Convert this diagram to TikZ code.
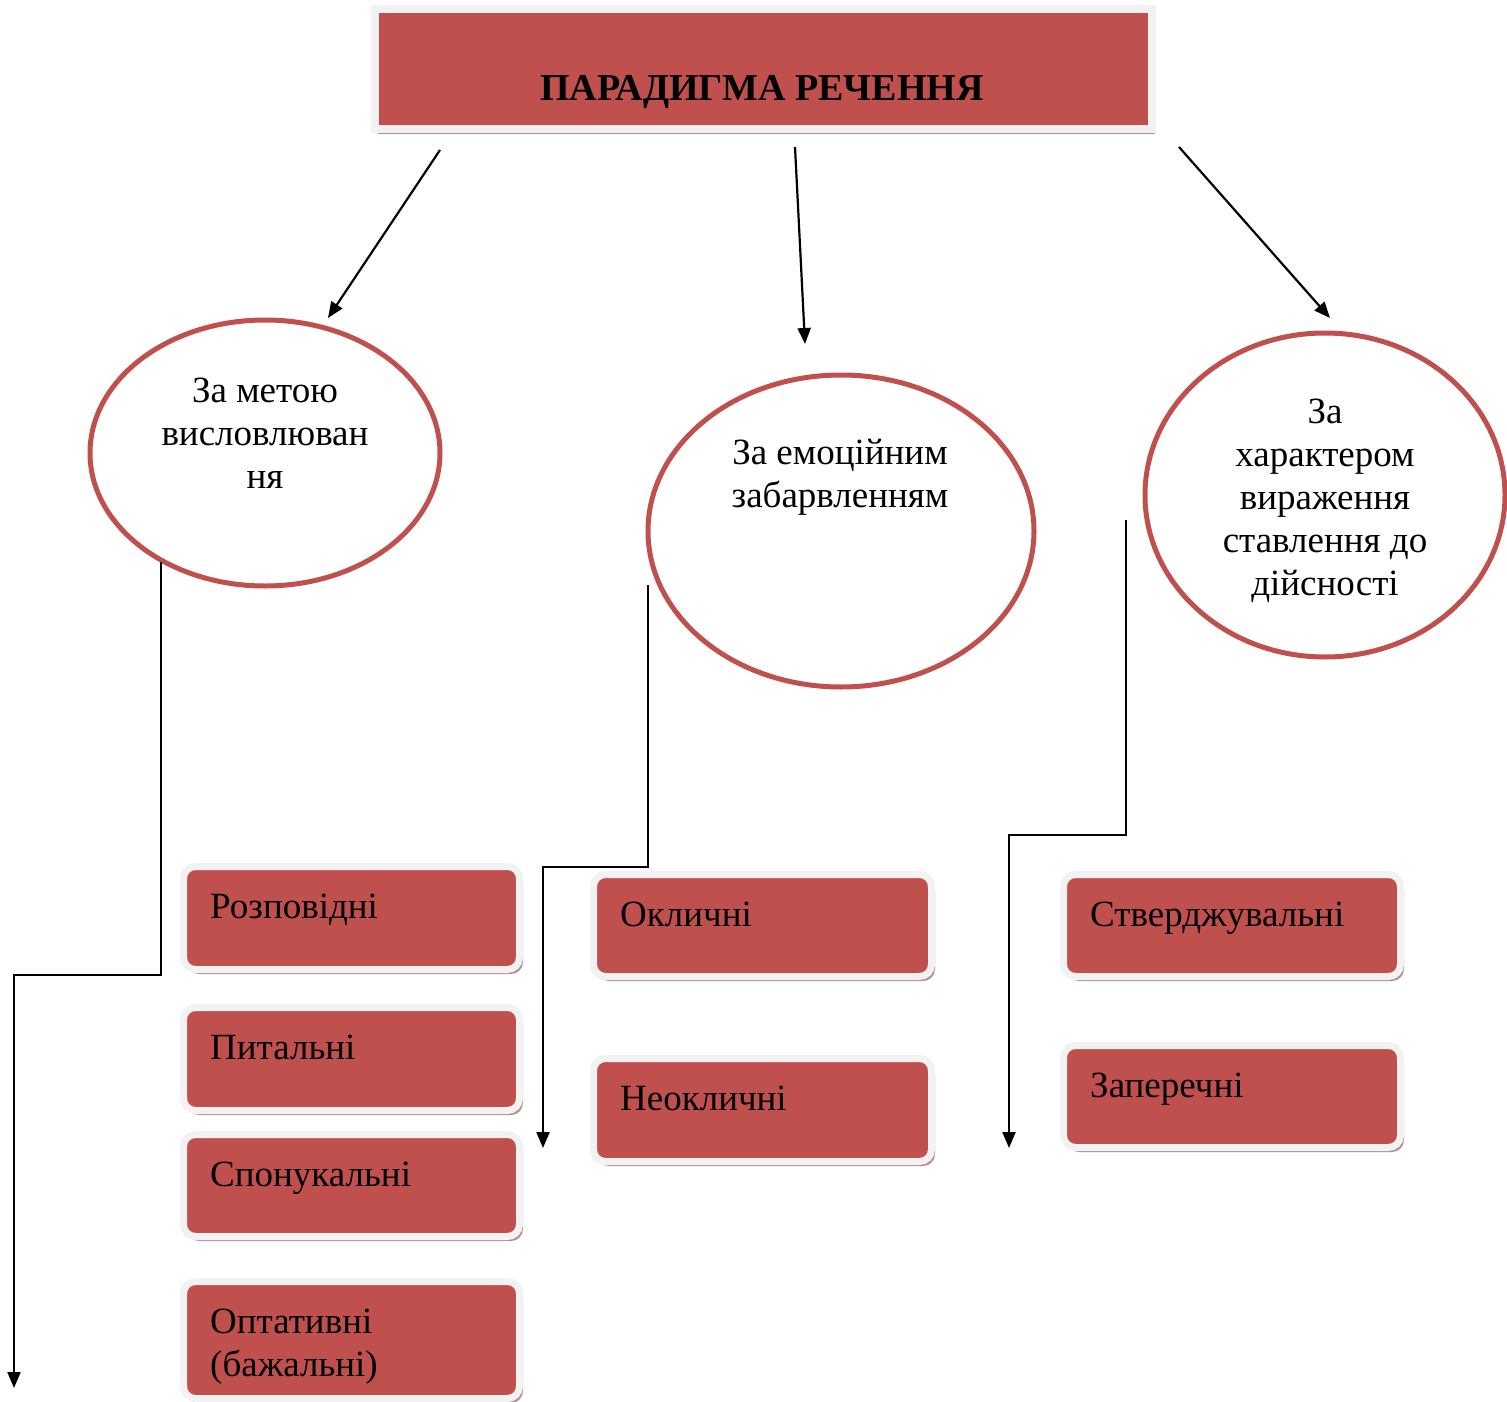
\documentclass[tikz,border=0pt]{standalone}
\usepackage{fontspec}
\setmainfont{Liberation Serif}
\usetikzlibrary{shadows,arrows.meta,shapes.geometric}
\definecolor{accred}{HTML}{C0504D}
\definecolor{framegray}{HTML}{F2F2F2}
\definecolor{shadowred}{HTML}{B48E8E}
\tikzset{
  redbox/.style={fill=accred, draw=framegray, line width=7pt, rounded corners=12pt,
    drop shadow={shadow xshift=3.5pt, shadow yshift=-4.5pt, fill=shadowred, opacity=1},
    inner sep=0pt},
  titlebox/.style={fill=accred, draw=framegray, line width=8pt,
    drop shadow={shadow xshift=3pt, shadow yshift=-5pt, fill=shadowred, opacity=1},
    inner sep=0pt},
  oval/.style={draw=accred, line width=5pt, fill=white, inner sep=0pt},
  boxtext/.style={anchor=base west, font=\fontsize{37}{43}\selectfont, align=left, inner sep=0pt},
  ovaltext/.style={font=\fontsize{37}{43}\selectfont, align=center, inner sep=0pt, anchor=base},
  conn/.style={line width=2.2pt, -{Triangle[length=16pt,width=13pt]}},
}
% #7 = baseline of the last text line, measured from the box top
\newcommand{\boxat}[7]{%
  \node[redbox, minimum width=#4-#2+7pt, minimum height=#5-#3+7pt] (#1) at ({(#2+#4)/2},{(#3+#5)/2}) {};
  \node[boxtext] (#1t) at (#2+23,#3+#7) {#6};
}
\begin{document}
\begin{tikzpicture}[x=1pt,y=-1pt]
\useasboundingbox (0,0) rectangle (1507,1402);
% title
\node[titlebox, minimum width=777pt, minimum height=120pt] (title) at (763.5,69) {};
\node[font=\fontsize{38}{44}\bfseries\selectfont, anchor=base, inner sep=0pt] (titlet) at (762,101) {ПАРАДИГМА РЕЧЕННЯ};
% ovals
\node[oval, ellipse, minimum width=350pt, minimum height=266pt] (o1) at (265,453) {};
\node[oval, ellipse, minimum width=386pt, minimum height=312pt] (o2) at (841,531) {};
\node[oval, ellipse, minimum width=360pt, minimum height=324pt] (o3) at (1325,495) {};
\node[ovaltext] (o1t) at (265,488) {За метою\\висловлюван\\ня};
\node[ovaltext] (o2t) at (840,507) {За емоційним\\забарвленням};
\node[ovaltext] (o3t) at (1325,595) {За\\характером\\вираження\\ставлення до\\дійсності};
% arrows from title
\coordinate (a1s) at (440,150); \coordinate (a1e) at (328,318);
\coordinate (a2s) at (795,147); \coordinate (a2e) at (805,344);
\coordinate (a3s) at (1179,147); \coordinate (a3e) at (1330,318);
\draw[conn] (a1s) -- (a1e);
\draw[conn] (a2s) -- (a2e);
\draw[conn] (a3s) -- (a3e);
% boxes
\boxat{b1}{187}{870}{516}{966}{Розповідні}{48}
\boxat{b2}{187}{1011}{516}{1107}{Питальні}{48}
\boxat{b3}{187}{1138}{516}{1233}{Спонукальні}{48}
\boxat{b4}{187}{1285}{516}{1395}{Оптативні\\(бажальні)}{91}
\boxat{c1}{597}{878}{928}{973}{Окличні}{48}
\boxat{c2}{597}{1062}{928}{1158}{Неокличні}{48}
\boxat{d1}{1067}{878}{1397}{973}{Стверджувальні}{48}
\boxat{d2}{1067}{1049}{1397}{1144}{Заперечні}{48}
% connectors from ovals
\coordinate (l1s) at (161,562); \coordinate (l1e) at (14,1388);
\draw[conn] (l1s) -- (161,975) -- (14,975) -- (l1e);
\coordinate (l2s) at (648,585); \coordinate (l2e) at (543,1148);
\draw[conn] (l2s) -- (648,867) -- (543,867) -- (l2e);
\coordinate (l3s) at (1126,520); \coordinate (l3e) at (1009,1148);
\draw[conn] (l3s) -- (1126,835) -- (1009,835) -- (l3e);
\end{tikzpicture}
\end{document}
